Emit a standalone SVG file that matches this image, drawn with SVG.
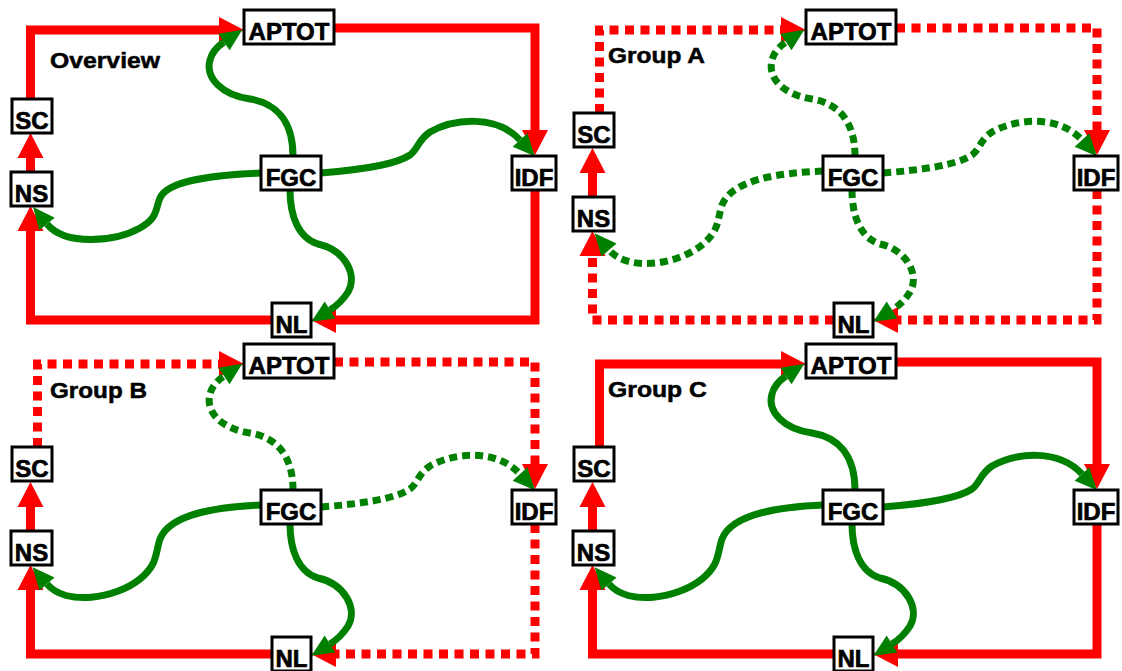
<svg xmlns="http://www.w3.org/2000/svg" width="1122" height="671" viewBox="0 0 1122 671">
<style>
.r{stroke:#ff0000;stroke-width:9;fill:none;marker-end:url(#ra)}
.g{stroke:#008000;stroke-width:7;fill:none;marker-end:url(#ga)}
.rd{stroke-dasharray:9 6.5}
.gd{stroke-dasharray:8 5}
.box{fill:#fff;stroke:#000;stroke-width:3}
.lbl{font-family:"Liberation Sans",Arial,sans-serif;font-weight:bold;font-size:24px;text-anchor:middle;fill:#000;stroke:#000;stroke-width:0.7}
.ttl{font-family:"Liberation Sans",Arial,sans-serif;font-weight:bold;font-size:22px;fill:#000;stroke:#000;stroke-width:0.5}
</style>
<defs>
<marker id="ra" markerUnits="userSpaceOnUse" markerWidth="26" markerHeight="26" refX="0" refY="13" orient="auto" overflow="visible"><path d="M0,0 L25,13 L0,26 z" fill="#ff0000"/></marker>
<marker id="ga" markerUnits="userSpaceOnUse" markerWidth="22" markerHeight="20" refX="0" refY="10" orient="auto" overflow="visible"><path d="M0,0 L22,10 L0,20 z" fill="#008000"/></marker>
</defs>
<rect width="1122" height="671" fill="#fff"/>

<!-- Overview -->
<g id="overview">
<g id="ov-connectors">
<path class="r" d="M30.5,99 L30.5,30 L219,30"/>
<path class="r" d="M334,28 L535,28 L535,130"/>
<path class="r" d="M535,190 L535,320 L336,320"/>
<path class="r" d="M272,320 L30.5,320 L30.5,231"/>
<path class="r" d="M30.5,172 L30.5,158"/>
<path class="g" d="M293,156 C293,120 275,103 250,99 C222,95 205,78 210,60 C212,52 218,46 224,42"/>
<path class="g" d="M321,173 C360,170 395,165 410,155 C418,149 418,140 430,132 C455,118 497,115 520,140"/>
<path class="g" d="M261,173 C215,175 168,180 160,198 C155,210 158,218 140,228 C115,242 65,246 47,224"/>
<path class="g" d="M290,190 C290,215 298,238 318,244 C345,250 358,275 348,292 C343,300 338,305 330,310"/>
</g>
<text class="ttl" x="50" y="68" textLength="110" lengthAdjust="spacingAndGlyphs">Overview</text>
<g id="ov-APTOT"><rect class="box" x="244" y="10" width="90" height="34"/><text class="lbl" x="289" y="39.5">APTOT</text></g>
<g id="ov-SC"><rect class="box" x="12" y="99" width="40" height="34"/><text class="lbl" x="32" y="128.5">SC</text></g>
<g id="ov-NS"><rect class="box" x="11" y="172" width="41" height="34"/><text class="lbl" x="31.5" y="201.5">NS</text></g>
<g id="ov-FGC"><rect class="box" x="261" y="156" width="60" height="34"/><text class="lbl" x="291" y="185.5">FGC</text></g>
<g id="ov-IDF"><rect class="box" x="512" y="156" width="44" height="34"/><text class="lbl" x="534" y="185.5">IDF</text></g>
<g id="ov-NL"><rect class="box" x="272" y="303" width="39" height="34"/><text class="lbl" x="291.5" y="332.5">NL</text></g>
</g>

<!-- Group A -->
<g id="groupA" transform="translate(562,0)">
<g id="a-connectors">
<path class="r rd" d="M37.5,113 L37.5,30 L219,30"/>
<path class="r rd" d="M334,28 L535,28 L535,130"/>
<path class="r rd" d="M535,190 L535,320 L336,320"/>
<path class="r rd" d="M272,320 L30.5,320 L30.5,256"/>
<path class="r" d="M30.5,197 L30.5,173"/>
<path class="g gd" d="M293,156 C293,120 275,103 250,99 C222,95 205,78 210,60 C212,52 218,46 224,42"/>
<path class="g gd" d="M321,173 C360,170 395,165 410,155 C418,149 418,140 430,132 C455,118 497,115 520,140"/>
<path class="g gd" d="M261,171 C215,173 170,180 160,205 C155,220 158,230 140,245 C115,265 66,272 47,250"/>
<path class="g gd" d="M290,190 C290,215 298,238 318,244 C345,250 358,275 348,292 C343,300 338,305 330,310"/>
</g>
<text class="ttl" x="46" y="63" textLength="97" lengthAdjust="spacingAndGlyphs">Group A</text>
<g id="a-APTOT"><rect class="box" x="244" y="10" width="90" height="34"/><text class="lbl" x="289" y="39.5">APTOT</text></g>
<g id="a-SC"><rect class="box" x="12" y="113" width="40" height="34"/><text class="lbl" x="32" y="142.5">SC</text></g>
<g id="a-NS"><rect class="box" x="11" y="197" width="41" height="34"/><text class="lbl" x="31.5" y="226.5">NS</text></g>
<g id="a-FGC"><rect class="box" x="261" y="156" width="60" height="34"/><text class="lbl" x="291" y="185.5">FGC</text></g>
<g id="a-IDF"><rect class="box" x="512" y="156" width="44" height="34"/><text class="lbl" x="534" y="185.5">IDF</text></g>
<g id="a-NL"><rect class="box" x="272" y="303" width="39" height="34"/><text class="lbl" x="291.5" y="332.5">NL</text></g>
</g>

<!-- Group B -->
<g id="groupB" transform="translate(0,334)">
<g id="b-connectors">
<path class="r rd" d="M37.5,113 L37.5,30 L219,30"/>
<path class="r rd" d="M334,28 L535,28 L535,130"/>
<path class="r rd" d="M535,190 L535,320 L336,320"/>
<path class="r" d="M272,320 L30.5,320 L30.5,256"/>
<path class="r" d="M30.5,197 L30.5,173"/>
<path class="g gd" d="M293,156 C293,120 275,103 250,99 C222,95 205,78 210,60 C212,52 218,46 224,42"/>
<path class="g gd" d="M321,173 C360,170 395,165 410,155 C418,149 418,140 430,132 C455,118 497,115 520,140"/>
<path class="g" d="M261,171 C215,173 170,180 160,205 C155,220 158,230 140,245 C115,265 66,272 47,250"/>
<path class="g" d="M290,190 C290,215 298,238 318,244 C345,250 358,275 348,292 C343,300 338,305 330,310"/>
</g>
<text class="ttl" x="50" y="64" textLength="97" lengthAdjust="spacingAndGlyphs">Group B</text>
<g id="b-APTOT"><rect class="box" x="244" y="10" width="90" height="34"/><text class="lbl" x="289" y="39.5">APTOT</text></g>
<g id="b-SC"><rect class="box" x="12" y="113" width="40" height="34"/><text class="lbl" x="32" y="142.5">SC</text></g>
<g id="b-NS"><rect class="box" x="11" y="197" width="41" height="34"/><text class="lbl" x="31.5" y="226.5">NS</text></g>
<g id="b-FGC"><rect class="box" x="261" y="156" width="60" height="34"/><text class="lbl" x="291" y="185.5">FGC</text></g>
<g id="b-IDF"><rect class="box" x="512" y="156" width="44" height="34"/><text class="lbl" x="534" y="185.5">IDF</text></g>
<g id="b-NL"><rect class="box" x="272" y="303" width="39" height="34"/><text class="lbl" x="291.5" y="332.5">NL</text></g>
</g>

<!-- Group C -->
<g id="groupC" transform="translate(562,334)">
<g id="c-connectors">
<path class="r" d="M37.5,113 L37.5,30 L219,30"/>
<path class="r" d="M334,28 L535,28 L535,130"/>
<path class="r" d="M535,190 L535,320 L336,320"/>
<path class="r" d="M272,320 L30.5,320 L30.5,256"/>
<path class="r" d="M30.5,197 L30.5,173"/>
<path class="g" d="M293,156 C293,120 275,103 250,99 C222,95 205,78 210,60 C212,52 218,46 224,42"/>
<path class="g" d="M321,173 C360,170 395,165 410,155 C418,149 418,140 430,132 C455,118 497,115 520,140"/>
<path class="g" d="M261,171 C215,173 170,180 160,205 C155,220 158,230 140,245 C115,265 66,272 47,250"/>
<path class="g" d="M290,190 C290,215 298,238 318,244 C345,250 358,275 348,292 C343,300 338,305 330,310"/>
</g>
<text class="ttl" x="46" y="63" textLength="99" lengthAdjust="spacingAndGlyphs">Group C</text>
<g id="c-APTOT"><rect class="box" x="244" y="10" width="90" height="34"/><text class="lbl" x="289" y="39.5">APTOT</text></g>
<g id="c-SC"><rect class="box" x="12" y="113" width="40" height="34"/><text class="lbl" x="32" y="142.5">SC</text></g>
<g id="c-NS"><rect class="box" x="11" y="197" width="41" height="34"/><text class="lbl" x="31.5" y="226.5">NS</text></g>
<g id="c-FGC"><rect class="box" x="261" y="156" width="60" height="34"/><text class="lbl" x="291" y="185.5">FGC</text></g>
<g id="c-IDF"><rect class="box" x="512" y="156" width="44" height="34"/><text class="lbl" x="534" y="185.5">IDF</text></g>
<g id="c-NL"><rect class="box" x="272" y="303" width="39" height="34"/><text class="lbl" x="291.5" y="332.5">NL</text></g>
</g>
</svg>
